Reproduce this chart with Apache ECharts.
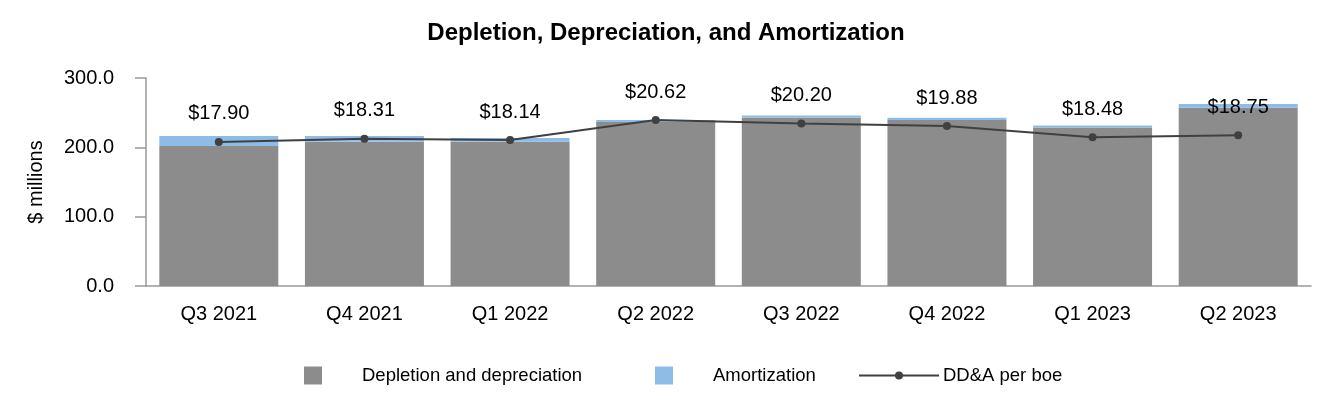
<!DOCTYPE html>
<html>
<head>
<meta charset="utf-8">
<script src="https://cdn.jsdelivr.net/npm/echarts@6/dist/echarts.min.js"></script>
<style>html,body{margin:0;padding:0;background:#fff;}#c{width:1332px;height:420px;}</style>
</head>
<body>
<div id="c"></div>
<script>
var categories = ['Q3 2021','Q4 2021','Q1 2022','Q2 2022','Q3 2022','Q4 2022','Q1 2023','Q2 2023'];
var depletion = [202, 208, 208, 236.5, 243, 239.5, 228.5, 257];
var amortization = [14.5, 8.5, 5.5, 3, 3, 3, 3, 5.5];
var ddaPerBoe = [17.90, 18.31, 18.14, 20.62, 20.20, 19.88, 18.48, 18.75];
var yTicks = [0, 100, 200, 300];

var FONT = '"Liberation Sans", Arial, sans-serif';
var chart = echarts.init(document.getElementById('c'), null, {renderer: 'canvas'});
chart.setOption({
  backgroundColor: '#fff',
  animation: false,
  title: {
    text: 'Depletion, Depreciation, and Amortization',
    left: 'center', top: 16,
    textStyle: {fontFamily: FONT, fontSize: 24, fontWeight: 'bold', color: '#000'}
  },
  legend: [
    {data: [{name: 'Depletion and depreciation', icon: 'rect'}], left: 304, top: 366, padding: 0,
     itemWidth: 18, itemHeight: 18,
     textStyle: {fontFamily: FONT, fontSize: 18.5, color: '#000', padding: [0,0,0,35]}},
    {data: [{name: 'Amortization', icon: 'rect'}], left: 655, top: 366, padding: 0,
     itemWidth: 18, itemHeight: 18,
     textStyle: {fontFamily: FONT, fontSize: 18.5, color: '#000', padding: [0,0,0,35]}},
    {data: ['DD&A per boe'], left: 858, top: 366, padding: 0, itemWidth: 80, itemHeight: 10,
     textStyle: {fontFamily: FONT, fontSize: 18.5, color: '#000', padding: [0,0,0,-1]}}
  ],
  grid: {left: 146, right: 21, top: 78, bottom: 134, containLabel: false},
  xAxis: {
    type: 'category', data: categories,
    axisLine: {lineStyle: {color: '#999', width: 1.5}},
    axisTick: {alignWithLabel: true, length: 11, lineStyle: {color: '#999', width: 1.5}},
    axisLabel: {fontFamily: FONT, fontSize: 20, color: '#000', margin: 18}
  },
  yAxis: [
    {type: 'value', min: yTicks[0], max: yTicks[yTicks.length-1], interval: 100,
     name: '$ millions', nameLocation: 'middle', nameGap: 100, nameRotate: 90,
     nameTextStyle: {fontFamily: FONT, fontSize: 20, color: '#000'},
     axisLine: {show: true, lineStyle: {color: '#999', width: 1.5}},
     axisTick: {show: true, length: 11, lineStyle: {color: '#999', width: 1.5}},
     splitLine: {show: false},
     axisLabel: {fontFamily: FONT, fontSize: 20, color: '#000', margin: 32,
       formatter: function (v) { return v.toFixed(1); }}},
    {type: 'value', min: 0, max: 25.85, show: false, splitLine: {show: false}}
  ],
  series: [
    {name: 'Depletion and depreciation', type: 'bar', stack: 'a', data: depletion,
     barWidth: 119, itemStyle: {color: '#8c8c8c'}},
    {name: 'Amortization', type: 'bar', stack: 'a', data: amortization,
     barWidth: 119, itemStyle: {color: '#8dbde6'}},
    {name: 'DD&A per boe', type: 'line', yAxisIndex: 1, data: ddaPerBoe, z: 5,
     symbol: 'circle', symbolSize: 8,
     lineStyle: {color: '#404040', width: 2}, itemStyle: {color: '#404040'},
     label: {show: true, position: 'top', distance: 14, fontFamily: FONT, fontSize: 20, color: '#000',
       formatter: function (p) { return '$' + p.value.toFixed(2); }}}
  ]
});
</script>
</body>
</html>
